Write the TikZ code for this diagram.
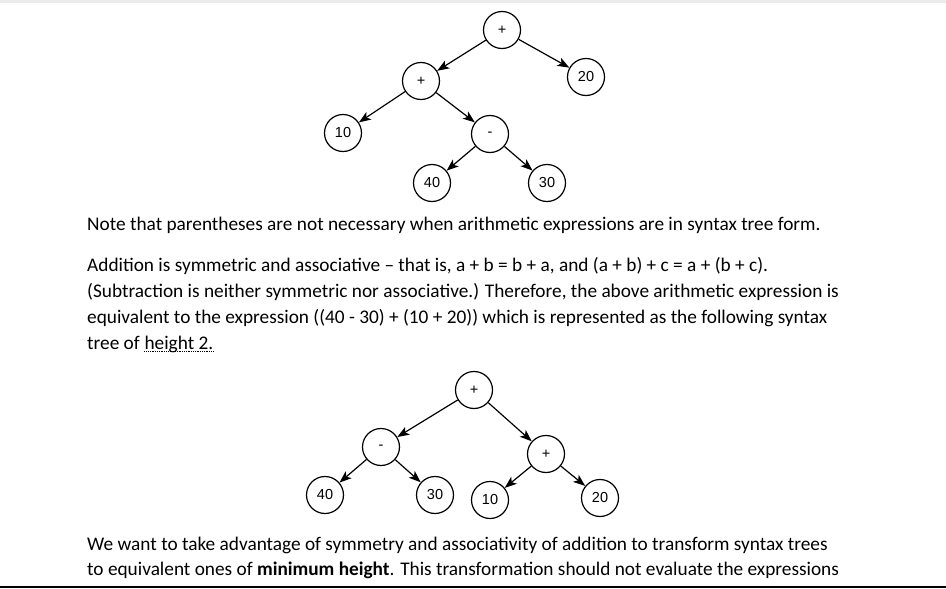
\documentclass[tikz,border=0pt]{standalone}
\usepackage{fontspec}
\setmainfont{Carlito}
\newfontfamily\treefont{Liberation Sans}
\usetikzlibrary{arrows.meta}

\begin{document}
\begin{tikzpicture}[x=1pt, y=-1pt,
  op/.style={draw, circle, line width=1.2pt, minimum size=37pt, inner sep=0pt,
             font=\treefont\fontsize{14.5}{14.5}\selectfont},
  arr/.style={-{Stealth[length=12pt, width=9pt, inset=3pt]}, line width=1.2pt},
  para/.style={anchor=base west, inner sep=0pt, font=\fontsize{19.3}{23}\selectfont}
]
  \useasboundingbox (0,0) rectangle (946,589);
  \fill[black!8] (0,0) rectangle (946,3);

  \node[op] (rootA) at (502,30)  {+};
  \node[op] (plusA) at (421,81)  {+};
  \node[op] (twentyA) at (586,77) {20};
  \node[op] (tenA)  at (343,133) {10};
  \node[op] (minusA) at (490,134) {-};
  \node[op] (fortyA) at (432,183) {40};
  \node[op] (thirtyA) at (547,183) {30};

  \draw[arr] (rootA)  -- (plusA);
  \draw[arr] (rootA)  -- (twentyA);
  \draw[arr] (plusA)  -- (tenA);
  \draw[arr] (plusA)  -- (minusA);
  \draw[arr] (minusA) -- (fortyA);
  \draw[arr] (minusA) -- (thirtyA);

  \node[para] (noteLine) at (87,230) {Note that parentheses are not necessary when arithmetic expressions are in syntax tree form.};
  \node[para] (addLine1) at (87,271) {Addition is symmetric and associative -- that is, a + b = b + a, and (a + b) + c = a + (b + c).};
  \node[para] (addLine2) at (87,297) {(Subtraction is neither symmetric nor associative.) Therefore, the above arithmetic expression is};
  \node[para] (addLine3) at (87,323) {equivalent to the expression ((40 - 30) + (10 + 20)) which is represented as the following syntax};
  \node[para] (treeOf) at (87,349) {tree of};
  \node[para] (heightTwo) at ([xshift=4.4pt]treeOf.base east) {height 2.};
  \draw[densely dotted, line width=0.8pt] ([yshift=-2.5pt]heightTwo.base west) -- ([yshift=-2.5pt]heightTwo.base east);

  \node[op] (rootB)  at (474,390) {+};
  \node[op] (minusB) at (381,447) {-};
  \node[op] (plusB)  at (546,454) {+};
  \node[op] (fortyB) at (325,495) {40};
  \node[op] (thirtyB) at (435,495) {30};
  \node[op] (tenB)   at (490,500) {10};
  \node[op] (twentyB) at (600,498) {20};

  \draw[arr] (rootB)  -- (minusB);
  \draw[arr] (rootB)  -- (plusB);
  \draw[arr] (minusB) -- (fortyB);
  \draw[arr] (minusB) -- (thirtyB);
  \draw[arr] (plusB)  -- (tenB);
  \draw[arr] (plusB)  -- (twentyB);

  \node[para] (wantLine1) at (87,550) {We want to take advantage of symmetry and associativity of addition to transform syntax trees};
  \node[para] (wantLine2) at (87,575) {to equivalent ones of \textbf{minimum height}. This transformation should not evaluate the expressions};

  \draw[line width=1.2pt] (0,587) -- (946,587);
\end{tikzpicture}
\end{document}
